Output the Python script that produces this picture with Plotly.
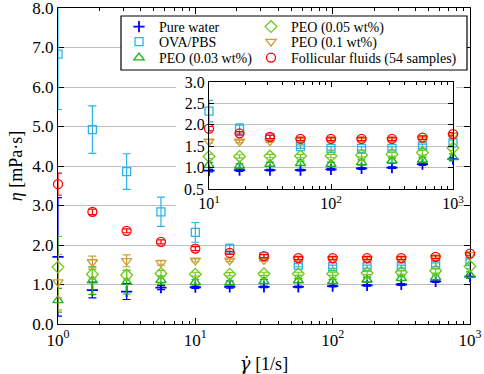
import plotly.graph_objects as go

# ---------------- data ----------------
shear_rate = [1, 1.78, 3.16, 5.62, 10, 17.8, 31.6, 56.2, 100, 178, 316, 562, 1000]

pure_water = [1.70, 0.86, 0.82, 0.92, 0.93, 0.94, 0.94, 0.94, 0.96, 0.98, 1.00, 1.08, 1.20]
pure_water_err = [1.50, 0.20, 0.20, 0.05, 0.03, 0.03, 0.02, 0.02, 0.02, 0.02, 0.02, 0.03, 0.04]

ova_pbs = [6.83, 4.92, 3.86, 2.84, 2.32, 1.90, 1.70, 1.49, 1.45, 1.45, 1.45, 1.50, 1.58]
ova_pbs_err = [1.40, 0.60, 0.45, 0.37, 0.25, 0.12, 0.05, 0.04, 0.04, 0.04, 0.04, 0.05, 0.06]

peo_003 = [0.60, 1.10, 1.06, 1.11, 1.06, 1.04, 1.08, 1.10, 1.08, 1.12, 1.16, 1.18, 1.24]
peo_003_err = [0.30, 0.35, 0.30, 0.10, 0.06, 0.05, 0.05, 0.05, 0.05, 0.06, 0.06, 0.06, 0.08]

peo_005 = [1.44, 1.26, 1.24, 1.28, 1.26, 1.26, 1.27, 1.27, 1.27, 1.29, 1.31, 1.35, 1.46]
peo_005_err = [0.78, 0.12, 0.12, 0.08, 0.05, 0.04, 0.04, 0.04, 0.04, 0.04, 0.05, 0.06, 0.06]

peo_01 = [1.06, 1.57, 1.60, 1.55, 1.61, 1.61, 1.62, 1.65, 1.65, 1.65, 1.65, 1.68, 1.75]
peo_01_err = [0.70, 0.15, 0.15, 0.06, 0.04, 0.03, 0.03, 0.03, 0.03, 0.03, 0.03, 0.03, 0.03]

follicular = [3.54, 2.84, 2.36, 2.08, 1.91, 1.80, 1.72, 1.67, 1.67, 1.67, 1.67, 1.70, 1.78]
follicular_err = [0.28, 0.07, 0.05, 0.05, 0.05, 0.04, 0.04, 0.04, 0.04, 0.04, 0.04, 0.04, 0.04]

x_tickvals = [1, 10, 100, 1000]
x_ticktext = ["10<sup>0</sup>", "10<sup>1</sup>", "10<sup>2</sup>", "10<sup>3</sup>"]
x_minor = [m * d for d in (1, 10, 100) for m in range(2, 10)]
inset_y_ticks = [0.5, 1.0, 1.5, 2.0, 2.5, 3.0]

FONT = "Liberation Serif"

# plot area in page pixels: x 58..470, y 8..324
def px_x(p):
    return (p - 58) / 412

def px_y(p):
    return (324 - p) / 316

series = [
    # name, values, errors, color, symbol, legend, size
    ("Pure water", pure_water, pure_water_err, "#0000FF", "cross-thin", "legend", 8),
    ("OVA/PBS", ova_pbs, ova_pbs_err, "#2DB3E6", "square-open", "legend2", 8),
    ("PEO (0.03 wt%)", peo_003, peo_003_err, "#17B31A", "triangle-up-open", "legend3", 9),
    ("PEO (0.05 wt%)", peo_005, peo_005_err, "#6DCB1B", "diamond-open", "legend4", 9),
    ("PEO (0.1 wt%)", peo_01, peo_01_err, "#C9A036", "triangle-down-open", "legend5", 9),
    ("Follicular fluids (54 samples)", follicular, follicular_err, "#FF0000", "circle-open", "legend6", 9),
]

fig = go.Figure()

# dummy trace for white backing panel behind inset
fig.add_trace(go.Scatter(x=[None], y=[None], xaxis="x2", yaxis="y2",
                         showlegend=False, hoverinfo="skip"))

for name, vals, errs, color, sym, leg, size in series:
    mk = dict(symbol=sym, size=size, color=color,
              line=dict(color=color, width=1.3 if sym != "cross-thin" else 1.8))
    eb = dict(type="data", array=errs, visible=True, color=color, thickness=1.2, width=4)
    fig.add_trace(go.Scatter(
        x=shear_rate, y=vals, error_y=eb, mode="markers", marker=mk, name=name,
        legend=leg, cliponaxis=(name == "OVA/PBS"), xaxis="x", yaxis="y"))

for name, vals, errs, color, sym, leg, size in series:
    mk = dict(symbol=sym, size=size, color=color,
              line=dict(color=color, width=1.3 if sym != "cross-thin" else 1.8))
    eb = dict(type="data", array=errs[4:], visible=True, color=color, thickness=1.2, width=4)
    fig.add_trace(go.Scatter(
        x=shear_rate[4:], y=vals[4:], error_y=eb, mode="markers", marker=mk, name=name,
        showlegend=False, cliponaxis=False, xaxis="x3", yaxis="y3"))

axis_common = dict(showline=True, linecolor="black", linewidth=1.2, mirror="ticks",
                   ticks="inside", tickcolor="black", tickwidth=1, zeroline=False,
                   ticklabeloverflow="allow",
                   tickfont=dict(family=FONT, size=17, color="black"), layer="below traces")

inset_common = dict(showline=True, linecolor="black", linewidth=1.2, mirror="ticks",
                    ticks="inside", tickcolor="black", zeroline=False, ticklen=5,
                    ticklabeloverflow="allow",
                    tickfont=dict(family=FONT, size=16, color="black"))

fig.update_layout(
    width=484, height=374,
    margin=dict(l=58, r=14, t=8, b=50, autoexpand=False),
    paper_bgcolor="white", plot_bgcolor="white",
    font=dict(family=FONT, color="black"),
    xaxis=dict(type="log", range=[0, 3], domain=[0, 1], anchor="y",
               tickvals=x_tickvals, ticktext=x_ticktext, ticklen=6, showgrid=False,
               minor=dict(tickvals=x_minor, ticks="inside", ticklen=3, tickcolor="black", showgrid=False),
               title=dict(text='<span style="font-family:DejaVu Serif"><i>γ\u0307</i></span> [1/s]',
                          font=dict(family=FONT, size=18), standoff=8),
               **axis_common),
    yaxis=dict(range=[0, 8], dtick=1, tick0=0, tickformat=".1f", domain=[0, 1], anchor="x",
               ticklen=6, showgrid=True, gridcolor="#BEBEBE", gridwidth=1.3,
               title=dict(text="<i>η</i> [mPa·s]", font=dict(family=FONT, size=18), standoff=4),
               **axis_common),
    xaxis2=dict(domain=[px_x(176), px_x(456)], anchor="y2", visible=False, range=[0, 1]),
    yaxis2=dict(domain=[px_y(216), px_y(74)], anchor="x2", visible=False, range=[0, 1]),
    xaxis3=dict(type="log", range=[1, 3], domain=[px_x(209), px_x(453)], anchor="y3",
                tickvals=[10, 100, 1000], ticktext=x_ticktext[1:], showgrid=False,
                minor=dict(tickvals=x_minor[8:], ticks="inside", ticklen=3, tickcolor="black", showgrid=False),
                **inset_common),
    yaxis3=dict(range=[0.5, 3.0], tickmode="array", tickvals=inset_y_ticks[1:],
                ticktext=[f"{v:.1f}" for v in inset_y_ticks[1:]],
                domain=[px_y(189), px_y(82)], anchor="x3",
                showgrid=True, gridcolor="#BEBEBE", gridwidth=1.3,
                **inset_common),
    shapes=[dict(type="rect", xref="paper", yref="paper",
                 x0=px_x(121), x1=px_x(467), y0=px_y(70), y1=px_y(16),
                 fillcolor="white", line=dict(color="black", width=1.2), layer="above")],
    annotations=[dict(text=f"{inset_y_ticks[0]:.1f}", xref="paper", yref="y3",
                      x=px_x(206), y=inset_y_ticks[0], xanchor="right", yanchor="middle",
                      showarrow=False, font=dict(family=FONT, size=16, color="black"))],
)

leg_common = dict(xanchor="left", yanchor="middle", bgcolor="rgba(0,0,0,0)",
                  borderwidth=0, font=dict(family=FONT, size=14, color="black"),
                  itemclick=False, itemdoubleclick=False)
rows = [27, 42, 58]
cols = [119, 251]
legend_layout = {}
names = ["legend", "legend2", "legend3", "legend4", "legend5", "legend6"]
for i, lname in enumerate(names):
    c = cols[i // 3]
    r = rows[i % 3]
    legend_layout[lname] = dict(x=px_x(c), y=px_y(r), **leg_common)
fig.update_layout(**legend_layout)

fig.write_html("out.html", config={"displayModeBar": False},
               post_script="document.body.style.margin='0';")
